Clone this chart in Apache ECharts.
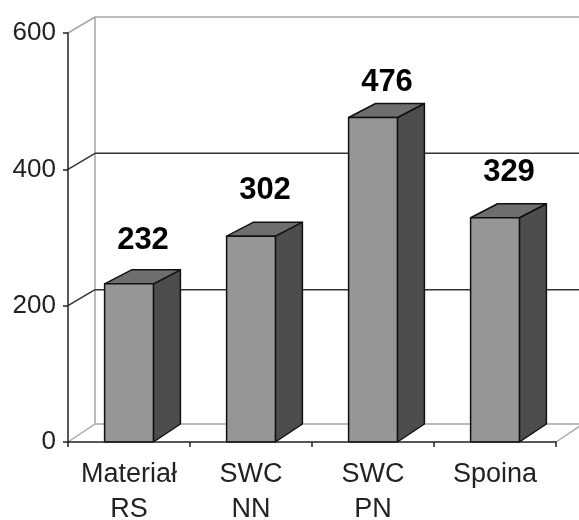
<!DOCTYPE html>
<html>

<head>
	<title>Wykres</title>
	<meta http-equiv="Content-Type" content="text/html; charset=utf-8" />
	<style>
		* {
			padding: 0;
			margin: 0;
		}
	</style>
</head>

<body>
	<div id="main" style="width:579px;height:520px;"></div>
</body>
<script src="https://cdn.jsdelivr.net/npm/echarts@6/dist/echarts.min.js" type="text/javascript"></script>
<script type="text/javascript">
	var categories = ['Materiał\nRS', 'SWC\nNN', 'SWC\nPN', 'Spoina'];
	var values = [232, 302, 476, 329];
	var wallTicks = [0, 200, 400, 600];
	// the original labels were not placed evenly above the bars
	var labelNudge = [-3, -5, 5, -5];

	var FONT = '"Liberation Sans", Arial, sans-serif';
	var DEPTH_X = 27;
	var DEPTH_Y_BOTTOM = 18; // the original is slightly in perspective
	var DEPTH_Y_TOP = 14;

	var chartDom = document.getElementById('main');
	var myChart = echarts.init(chartDom);

	// back wall and floor: one diagonal + one back line for each tick value
	function renderWall(params, api) {
		var v = api.value(1);
		var box = params.coordSys;
		var y = api.coord([0, v])[1];
		var dy = v === 0 ? 18 : 16;
		var dark = v === 200 || v === 400;
		var style = { stroke: dark ? '#333333' : '#a6a6a6', lineWidth: 1.5, fill: null };
		var kids = [
			{ type: 'line', shape: { x1: box.x, y1: y, x2: box.x + DEPTH_X, y2: y - dy }, style: style },
			{ type: 'line', shape: { x1: box.x + DEPTH_X, y1: y - dy, x2: 579, y2: y - dy }, style: style }
		];
		if (v === 0) {
			// right edge of the floor
			kids.push({ type: 'line', shape: { x1: box.x + box.width, y1: y, x2: box.x + box.width + DEPTH_X, y2: y - dy }, style: style });
			// left edge of the back wall
			var top = api.coord([0, wallTicks[wallTicks.length - 1]])[1] - 16;
			kids.push({ type: 'line', shape: { x1: box.x + DEPTH_X, y1: top, x2: box.x + DEPTH_X, y2: y - dy }, style: { stroke: '#a6a6a6', lineWidth: 1.5 } });
		}
		return { type: 'group', children: kids };
	}

	function renderBar(params, api) {
		var p = api.coord([api.value(0), api.value(1)]);
		var base = api.coord([api.value(0), 0])[1];
		var w = api.size([1, 0])[0] * 0.4;
		var l = p[0] - w / 2;
		var r = p[0] + w / 2;
		var t = p[1];
		var edge = { stroke: '#111111', lineWidth: 1.5, lineJoin: 'round' };
		function face(points, fill) {
			return { type: 'polygon', shape: { points: points }, style: Object.assign({ fill: fill }, edge) };
		}
		return {
			type: 'group',
			children: [
				face([[r, base], [r + DEPTH_X, base - DEPTH_Y_BOTTOM], [r + DEPTH_X, t - DEPTH_Y_TOP], [r, t]], '#4d4d4d'),
				face([[l, t], [l + DEPTH_X, t - DEPTH_Y_TOP], [r + DEPTH_X, t - DEPTH_Y_TOP], [r, t]], '#6e6e6e'),
				face([[l, t], [r, t], [r, base], [l, base]], '#969696'),
				{
					type: 'text',
					style: {
						x: p[0] + 14,
						y: t - 25 + labelNudge[params.dataIndex],
						text: String(api.value(1)),
						align: 'center',
						verticalAlign: 'bottom',
						font: 'bold 31px ' + FONT,
						fill: '#000000'
					}
				}
			]
		};
	}

	var option = {
		animation: false,
		backgroundColor: '#ffffff',
		grid: { left: 68, right: 23, top: 33, bottom: 78, outerBoundsMode: 'none' },
		xAxis: {
			type: 'category',
			data: categories,
			z: 5,
			axisLine: { lineStyle: { color: '#222222', width: 1.5 } },
			axisTick: { show: true, length: 5, alignWithLabel: false, lineStyle: { color: '#222222', width: 1.5 } },
			axisLabel: { color: '#222222', fontFamily: FONT, fontSize: 27, lineHeight: 35, margin: 15, interval: 0 },
			splitLine: { show: false }
		},
		yAxis: {
			type: 'value',
			min: 0,
			max: 600,
			interval: 200,
			z: 5,
			axisLine: { show: true, lineStyle: { color: '#222222', width: 1.5 } },
			axisTick: { show: true, length: 5, lineStyle: { color: '#222222', width: 1.5 } },
			axisLabel: { color: '#222222', fontFamily: FONT, fontSize: 26, margin: 12, padding: [0, 0, 5, 0] },
			splitLine: { show: false }
		},
		series: [
			{
				type: 'custom',
				z: 1,
				clip: false,
				silent: true,
				renderItem: renderWall,
				data: wallTicks.map(function (v) { return [0, v]; })
			},
			{
				type: 'custom',
				z: 2,
				clip: false,
				renderItem: renderBar,
				encode: { x: 0, y: 1 },
				data: values.map(function (v, i) { return [i, v]; })
			}
		]
	};
	myChart.setOption(option);
</script>

</html>
